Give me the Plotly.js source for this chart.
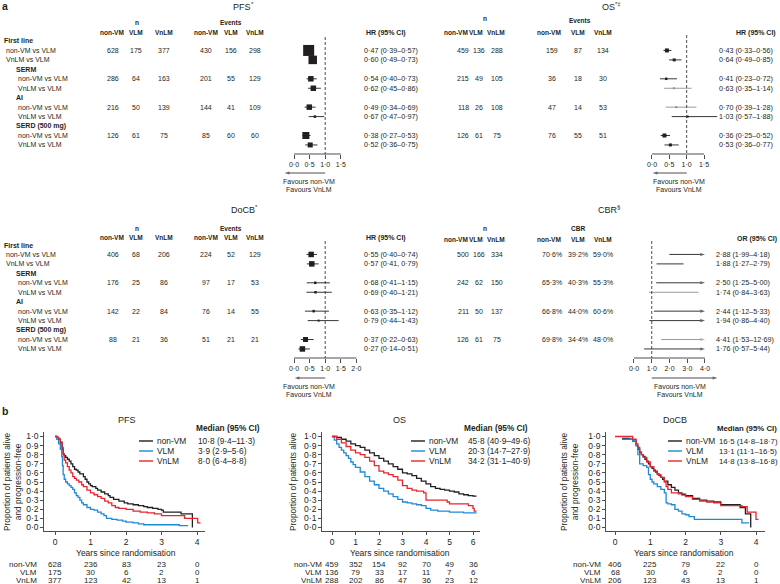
<!DOCTYPE html>
<html><head><meta charset="utf-8">
<script src="https://cdn.plot.ly/plotly-3.0.1.min.js"></script>
<style>body{margin:0;padding:0;background:#fff}#chart{width:780px;height:584px}</style>
</head><body><div id="chart"></div>
<script>
// ================= DATA =================
const rowLabels = ['First line','non-VM vs VLM','VnLM vs VLM','SERM','non-VM vs VLM','VnLM vs VLM','AI','non-VM vs VLM','VnLM vs VLM','SERD (500 mg)','non-VM vs VLM','VnLM vs VLM'];
const rowIsHeader = [1,0,0,1,0,0,1,0,0,1,0,0];
const dataRows = [1,2,4,5,7,8,10,11];
const groupRows = [1,4,7,10];
const colHeads = ['non-VM','VLM','VnLM'];

// PFS forest
const pfsN_nonVM=[628,286,216,126], pfsN_VLM=[175,64,50,61], pfsN_VnLM=[377,163,139,75];
const pfsE_nonVM=[430,201,144,85], pfsE_VLM=[156,55,41,60], pfsE_VnLM=[298,129,109,60];
const pfsHR=[0.47,0.60,0.54,0.62,0.49,0.67,0.38,0.52];
const pfsLo=[0.39,0.49,0.40,0.45,0.34,0.47,0.27,0.36];
const pfsHi=[0.57,0.73,0.73,0.86,0.69,0.97,0.53,0.75];
const pfsWeight=[11,8.5,5.5,5.5,5.5,2.5,7,5];

// OS forest
const osN_nonVM=[459,215,118,126], osN_VLM=[136,49,26,61], osN_VnLM=[288,105,108,75];
const osE_nonVM=[159,36,47,76], osE_VLM=[87,18,14,55], osE_VnLM=[134,30,53,51];
const osHR=[0.43,0.64,0.41,0.63,0.70,1.03,0.36,0.53];
const osLo=[0.33,0.49,0.23,0.35,0.39,0.57,0.25,0.36];
const osHi=[0.56,0.85,0.72,1.14,1.28,1.88,0.52,0.77];
const osWeight=[4,3,2.5,2,2,2,4,3];
const osGrayRow=[0,0,0,1,1,0,0,0];

// DoCB forest
const docbN_nonVM=[406,176,142,88], docbN_VLM=[68,25,22,21], docbN_VnLM=[206,86,84,36];
const docbE_nonVM=[224,97,76,51], docbE_VLM=[52,17,14,21], docbE_VnLM=[129,53,55,21];
const docbHR=[0.55,0.57,0.68,0.69,0.63,0.79,0.37,0.27];
const docbLo=[0.40,0.41,0.41,0.40,0.35,0.44,0.22,0.14];
const docbHi=[0.74,0.79,1.15,1.21,1.12,1.43,0.63,0.51];
const docbSep=['–',', ','–','–','–','–','–','–'];
const docbWeight=[5.5,5.5,2.5,2.5,2.5,2,5,5.5];

// CBR forest
const cbrN_nonVM=[500,242,211,126], cbrN_VLM=[166,62,50,61], cbrN_VnLM=[334,150,137,75];
const cbrPct_nonVM=[70.6,65.3,66.8,69.8], cbrPct_VLM=[39.2,40.3,44.0,34.4], cbrPct_VnLM=[59.0,55.3,60.6,48.0];
const cbrOR=[2.88,1.88,2.50,1.74,2.44,1.94,4.41,1.76];
const cbrLo=[1.99,1.27,1.25,0.84,1.12,0.86,1.53,0.57];
const cbrHi=[4.18,2.79,5.00,3.63,5.33,4.40,12.69,5.44];
const cbrGrayRow=[0,0,0,1,0,0,1,0];
const cbrAxisMax=4;

// KM: PFS
const pfsNonVM_t=[0,0.05,0.1,0.15,0.2,0.23,0.26,0.3,0.35,0.4,0.45,0.5,0.55,0.6,0.65,0.7,0.8,0.85,0.9,0.95,1.0,1.05,1.15,1.2,1.3,1.4,1.5,1.55,1.65,1.8,1.95,2.05,2.2,2.35,2.5,2.6,2.75,2.9,3.0,3.05,3.55,3.87];
const pfsNonVM_s=[1.0,0.99,0.97,0.93,0.86,0.81,0.79,0.77,0.75,0.73,0.70,0.67,0.64,0.63,0.61,0.59,0.56,0.53,0.50,0.48,0.46,0.45,0.43,0.41,0.39,0.37,0.35,0.33,0.31,0.29,0.27,0.26,0.25,0.24,0.23,0.22,0.21,0.20,0.19,0.17,0.15,0.0];
const pfsVLM_t=[0,0.05,0.1,0.15,0.19,0.21,0.23,0.26,0.3,0.35,0.4,0.45,0.5,0.55,0.6,0.65,0.7,0.75,0.8,0.9,1.0,1.1,1.2,1.3,1.38,1.45,1.6,1.75,1.9,2.0,2.2,2.35,2.5,3.5,3.75];
const pfsVLM_s=[1.0,0.97,0.92,0.86,0.78,0.68,0.58,0.53,0.50,0.48,0.46,0.44,0.42,0.38,0.35,0.33,0.30,0.27,0.25,0.22,0.20,0.19,0.17,0.15,0.13,0.10,0.09,0.08,0.07,0.06,0.05,0.04,0.03,0.02,0.02];
const pfsVnLM_t=[0,0.05,0.1,0.15,0.2,0.23,0.26,0.3,0.35,0.4,0.45,0.5,0.55,0.6,0.67,0.75,0.8,0.9,1.0,1.1,1.2,1.3,1.4,1.5,1.6,1.7,1.8,2.0,2.2,2.4,2.6,2.8,3.0,3.6,3.65,3.95,4.02,4.1];
const pfsVnLM_s=[1.0,0.99,0.97,0.94,0.88,0.80,0.74,0.71,0.67,0.63,0.60,0.56,0.54,0.52,0.50,0.47,0.45,0.41,0.38,0.36,0.34,0.32,0.29,0.27,0.24,0.22,0.21,0.20,0.18,0.17,0.16,0.15,0.13,0.13,0.10,0.10,0.05,0.05];
// KM: OS
const osNonVM_t=[0,0.2,0.4,0.6,0.8,1.0,1.2,1.4,1.6,1.8,2.0,2.2,2.4,2.6,2.8,3.0,3.2,3.4,3.6,3.8,4.0,4.2,4.4,4.6,4.8,5.0,5.2,5.4,5.6,5.8,6.0,6.15];
const osNonVM_s=[1.0,0.99,0.97,0.95,0.92,0.90,0.88,0.85,0.82,0.79,0.76,0.73,0.70,0.67,0.64,0.60,0.59,0.57,0.54,0.51,0.48,0.45,0.43,0.42,0.41,0.40,0.39,0.37,0.36,0.35,0.345,0.345];
const osVLM_t=[0,0.1,0.2,0.3,0.4,0.5,0.6,0.7,0.8,0.9,1.0,1.2,1.4,1.6,1.8,2.0,2.2,2.4,2.6,2.8,3.0,3.2,3.4,3.6,3.8,4.0,4.2,4.5,5.0,5.5,5.6,6.15];
const osVLM_s=[1.0,0.96,0.92,0.88,0.85,0.82,0.79,0.76,0.72,0.69,0.66,0.61,0.56,0.51,0.47,0.43,0.40,0.37,0.34,0.31,0.28,0.27,0.26,0.25,0.24,0.21,0.19,0.18,0.17,0.17,0.16,0.16];
const osVnLM_t=[0,0.2,0.4,0.6,0.8,1.0,1.2,1.4,1.6,1.8,2.0,2.2,2.4,2.6,2.8,3.0,3.2,3.4,3.6,3.9,4.0,4.5,4.9,5.0,5.5,5.8,6.0,6.05,6.15];
const osVnLM_s=[1.0,0.97,0.93,0.89,0.85,0.82,0.80,0.77,0.73,0.68,0.62,0.60,0.58,0.56,0.52,0.46,0.43,0.41,0.40,0.38,0.30,0.30,0.28,0.26,0.26,0.24,0.21,0.18,0.18];
// KM: DoCB
const docbNonVM_t=[0.2,0.4,0.5,0.6,0.65,0.7,0.75,0.8,0.85,0.9,0.95,1.0,1.05,1.1,1.15,1.2,1.25,1.3,1.35,1.4,1.5,1.6,1.7,1.8,1.9,2.0,2.2,2.4,2.6,2.8,3.0,3.5,3.55,3.7,3.85];
const docbNonVM_s=[0.98,0.97,0.95,0.90,0.86,0.82,0.80,0.78,0.75,0.73,0.70,0.67,0.65,0.63,0.61,0.59,0.57,0.55,0.53,0.51,0.47,0.44,0.41,0.38,0.36,0.35,0.32,0.30,0.29,0.28,0.25,0.25,0.22,0.15,0.0];
const docbVLM_t=[0.2,0.5,0.6,0.65,0.7,0.8,0.9,0.95,1.0,1.05,1.1,1.2,1.3,1.4,1.45,1.5,1.6,1.7,1.8,1.9,2.0,2.1,2.25,3.6,3.8];
const docbVLM_s=[0.97,0.95,0.90,0.80,0.70,0.68,0.66,0.58,0.53,0.50,0.48,0.45,0.42,0.38,0.27,0.26,0.25,0.20,0.18,0.15,0.14,0.12,0.09,0.05,0.05];
const docbVnLM_t=[0,0.5,0.6,0.65,0.7,0.75,0.8,0.9,1.0,1.1,1.2,1.3,1.4,1.45,1.5,1.6,1.8,2.0,2.2,2.4,2.6,2.8,3.0,3.6,3.75,4.0,4.07];
const docbVnLM_s=[1.0,0.97,0.92,0.88,0.83,0.80,0.77,0.72,0.67,0.62,0.58,0.55,0.50,0.45,0.42,0.38,0.37,0.34,0.31,0.29,0.28,0.27,0.24,0.23,0.17,0.09,0.09];

// KM medians and numbers at risk
const groups=['non-VM','VLM','VnLM'];
const pfsMedian=['10·8 (9·4–11·3)','3·9 (2·9–5·6)','8·0 (6·4–8·8)'];
const osMedian=['45·8 (40·9–49·6)','20·3 (14·7–27·9)','34·2 (31·1–40·9)'];
const docbMedian=['16·5 (14·8–18·7)','13·1 (11·1–16·5)','14·8 (13·8–16·8)'];
const pfsRiskT=[0,1,2,3,4];
const pfsRisk_nonVM=[628,236,83,23,0], pfsRisk_VLM=[175,30,6,2,0], pfsRisk_VnLM=[377,123,42,13,1];
const osRiskT=[0,1,2,3,4,5,6];
const osRisk_nonVM=[459,352,154,92,70,49,36], osRisk_VLM=[136,79,33,17,11,7,6], osRisk_VnLM=[288,202,86,47,36,23,12];
const docbRiskT=[0,1,2,3,4];
const docbRisk_nonVM=[406,225,79,22,0], docbRisk_VLM=[68,30,6,2,0], docbRisk_VnLM=[206,123,43,13,1];

// ================= DRAWING =================
const W=780,H=584;
const px=v=>v/W, py=v=>1-v/H;
const INK='#231f20', GRAY='#8e8e8e', BLUE='#1e8ad6', RED='#e8252c';
const FONT='"Liberation Sans", Arial, Helvetica, sans-serif';
const fmt2=v=>v.toFixed(2).replace('.','·');
const fmt1=v=>v.toFixed(1).replace('.','·');
const annotations=[], shapes=[], traces=[];

function T(x,y,text,o){
  const a={x:x,y:y,text:text,xref:'paper',yref:'paper',showarrow:false,xanchor:'center',yanchor:'middle',borderpad:0,
    font:{family:FONT,size:7,color:INK}};
  Object.assign(a,o||{});
  annotations.push(a);
}
const fs=(s)=>({family:FONT,size:s,color:INK});

// ---- forest axes (row index scale, 9.45 px per row)
const ROW_SP=9.45;
const rowAt=(pix,r0)=>(pix-r0)/ROW_SP;
function fxAxis(z0,s,r,axisPx,tv){
  return {domain:[px(z0+r[0]*s),px(z0+r[1]*s)],range:r,anchor:'free',position:py(axisPx),tickvals:tv,ticktext:tv.map(fmt1),
    ticks:'outside',ticklen:4,tickwidth:0.8,tickcolor:INK,showline:false,showgrid:false,zeroline:false,
    tickfont:fs(7),fixedrange:true};
}
function fyAxis(top,bot,r0,anchor){
  return {domain:[py(bot),py(top)],range:[rowAt(bot,r0),rowAt(top,r0)],anchor:anchor,
    showticklabels:false,ticks:'',showline:false,showgrid:false,zeroline:false,fixedrange:true};
}
const PFS_R0=41, DOCB_R0=245;
const layout={width:W,height:H,margin:{l:0,r:0,t:0,b:0,pad:0},paper_bgcolor:'#fff',plot_bgcolor:'rgba(0,0,0,0)',
  showlegend:false,font:fs(7),
  xaxis:fxAxis(294,31.2,[-0.35,1.9],154,[0,0.5,1,1.5]),
  yaxis:fyAxis(33,178,PFS_R0,'x'),
  xaxis2:fxAxis(652,34.67,[-0.35,2.0],154,[0,0.5,1,1.5]),
  yaxis2:fyAxis(33,178,PFS_R0,'x2'),
  xaxis3:fxAxis(294,31.2,[-0.35,2.2],358,[0,0.5,1,1.5,2]),
  yaxis3:fyAxis(237,383,DOCB_R0,'x3'),
  xaxis4:fxAxis(634,17.75,[-0.5,4.9],358,[0,1,2,3,4]),
  yaxis4:fyAxis(237,383,DOCB_R0,'x4')
};

// arrow drawn as a line with an arrow marker at its head
function arrowTrace(xa,ya,x0,x1,row,color,w){
  traces.push({type:'scatter',mode:'lines+markers',x:[x0,x1],y:[row,row],xaxis:xa,yaxis:ya,hoverinfo:'skip',cliponaxis:false,
    line:{color:color,width:w},marker:{symbol:'arrow',angleref:'previous',size:[0,5],color:color,line:{width:0}}});
}

// forest axis lines, reference lines, "favours" arrows and labels
function forestFrame(xa,ya,r0,tv,botPx,topDash,arrowFrom,arrowTo,arrowY,favX,favY){
  shapes.push({type:'line',xref:xa,yref:'paper',x0:tv[0],x1:tv[tv.length-1],y0:py(botPx),y1:py(botPx),line:{color:INK,width:0.8}});
  shapes.push({type:'line',xref:xa,yref:'paper',x0:1,x1:1,y0:py(topDash),y1:py(botPx),line:{color:INK,width:0.8,dash:'3px,2px'}});
  arrowTrace(xa,ya,arrowFrom,arrowTo,rowAt(arrowY,r0),INK,0.8);
  T(px(favX),py(favY),'Favours non-VM',{font:fs(7)});
  T(px(favX),py(favY+8),'Favours VnLM',{font:fs(7)});
}
forestFrame('x','y',PFS_R0,[0,1.5],154,37,1.0,-0.3,173,309,181);
forestFrame('x2','y2',PFS_R0,[0,1.5],154,35,1.0,0.02,173,679,181);
forestFrame('x3','y3',DOCB_R0,[0,2],358,241,1.0,0.02,378,309,386);
forestFrame('x4','y4',DOCB_R0,[0,4],358,241,1.0,4.7,378,680,386);

// forest markers + CIs
function addForest(xa,ya,hr,lo,hi,w,gray){
  for(let i=0;i<hr.length;i++){
    const c=gray&&gray[i]?GRAY:INK;
    traces.push({type:'scatter',mode:'markers',x:[hr[i]],y:[dataRows[i]],xaxis:xa,yaxis:ya,hoverinfo:'skip',cliponaxis:false,
      marker:{symbol:'square',size:w[i],color:c,line:{width:0}},
      error_x:{type:'data',symmetric:false,array:[hi[i]-hr[i]],arrayminus:[hr[i]-lo[i]],color:c,thickness:0.9,width:0}});
  }
}
addForest('x','y',pfsHR,pfsLo,pfsHi,pfsWeight,null);
addForest('x2','y2',osHR,osLo,osHi,osWeight,osGrayRow);
addForest('x3','y3',docbHR,docbLo,docbHi,docbWeight,null);
// CBR: CI lines, arrow where the CI runs past the axis end
for(let i=0;i<cbrOR.length;i++){
  const c=cbrGrayRow[i]?GRAY:INK, row=dataRows[i];
  if(cbrHi[i]>cbrAxisMax){
    arrowTrace('x4','y4',cbrLo[i],cbrAxisMax,row,c,0.9);
  } else {
    traces.push({type:'scatter',mode:'lines',x:[cbrLo[i],cbrHi[i]],y:[row,row],xaxis:'x4',yaxis:'y4',hoverinfo:'skip',
      line:{color:c,width:0.9}});
  }
}

// forest tables
function rowLabelsAt(ya){
  rowLabels.forEach((lab,r)=>{
    let x;
    if(r===0) x=3; else if(rowIsHeader[r]) x=15; else if(r<3) x=5; else x=17;
    T(px(x),r,rowIsHeader[r]?'<b>'+lab+'</b>':lab,{yref:ya,xanchor:'left'});
  });
}
rowLabelsAt('y'); rowLabelsAt('y3');

function table(ya,cols,arrs,f){
  for(let g=0;g<4;g++){
    arrs.forEach((a,j)=>T(px(cols[j]),groupRows[g],f?f(a[g]):String(a[g]),{yref:ya}));
  }
}
const leftN=[113,136,164], leftE=[206,231,255];
const rightN=[463,479,497], rightE=[552,578,603];
table('y',leftN,[pfsN_nonVM,pfsN_VLM,pfsN_VnLM]);
table('y',leftE,[pfsE_nonVM,pfsE_VLM,pfsE_VnLM]);
table('y2',rightN,[osN_nonVM,osN_VLM,osN_VnLM]);
table('y2',rightE,[osE_nonVM,osE_VLM,osE_VnLM]);
table('y3',leftN,[docbN_nonVM,docbN_VLM,docbN_VnLM]);
table('y3',leftE,[docbE_nonVM,docbE_VLM,docbE_VnLM]);
table('y4',rightN,[cbrN_nonVM,cbrN_VLM,cbrN_VnLM]);
table('y4',rightE,[cbrPct_nonVM,cbrPct_VLM,cbrPct_VnLM],v=>fmt1(v)+'%');

function estTexts(ya,x,est,lo,hi,sep){
  est.forEach((v,i)=>T(px(x),dataRows[i],fmt2(v)+' ('+fmt2(lo[i])+(sep?sep[i]:'–')+fmt2(hi[i])+')',
    {yref:ya,xanchor:'left',font:fs(7.2)}));
}
estTexts('y',363,pfsHR,pfsLo,pfsHi);
estTexts('y2',718,osHR,osLo,osHi);
estTexts('y3',363,docbHR,docbLo,docbHi,docbSep);
estTexts('y4',715,cbrOR,cbrLo,cbrHi);

// headers
const HF=fs(6.5);
function heads(cols,y){ colHeads.forEach((h,j)=>T(px(cols[j]),py(y),'<b>'+h+'</b>',{font:HF})); }
// panel title with a small raised mark after it
function ptitle(cx,cy,main,sup,halfW){
  T(px(cx),py(cy),main,{font:fs(9)});
  T(px(cx+halfW),py(cy-3),sup,{xanchor:'left',font:fs(6)});
}
ptitle(242,7,'PFS','*',7.6);
T(px(137),py(23),'<b>n</b>',{font:HF}); T(px(231),py(23),'<b>Events</b>',{font:HF});
heads([112,136,164],33); heads([206,231,255],33);
T(px(365),py(33),'<b>HR (95% CI)</b>',{xanchor:'left'});

ptitle(608,7,'OS','*‡',6.2);
T(px(485),py(18),'<b>n</b>',{font:HF}); T(px(580),py(21),'<b>Events</b>',{font:HF});
heads([456,476,496],33); heads([549,578,603],33);
T(px(756),py(33),'<b>HR (95% CI)</b>');

ptitle(243,210,'DoCB','*',10.8);
T(px(137),py(228),'<b>n</b>',{font:HF}); T(px(231),py(228),'<b>Events</b>',{font:HF});
heads([112,136,164],238); heads([206,231,255],238);
T(px(365),py(238),'<b>HR (95% CI)</b>',{xanchor:'left'});

ptitle(608,210,'CBR','§',8.3);
T(px(485),py(229),'<b>n</b>',{font:HF}); T(px(578),py(229),'<b>CBR</b>',{font:HF});
heads([456,476,496],239); heads([549,578,603],239);
T(px(757),py(239),'<b>OR (95% CI)</b>');

T(px(1),py(6),'<b>a</b>',{xanchor:'left',font:fs(10.5)});
T(px(1),py(411),'<b>b</b>',{xanchor:'left',font:fs(10.5)});

// ================= KM =================
const KM_TOP=432, KM_BOT=531, KM_Y0=527.5, KM_YS=91;
const yTicks=[0,0.1,0.2,0.3,0.4,0.5,0.6,0.7,0.8,0.9,1.0];
function kmx(z0,s,r,anchor,tv){
  return {domain:[px(z0+r[0]*s),px(z0+r[1]*s)],range:r,anchor:anchor,tickvals:tv,ticktext:tv.map(String),
    ticks:'outside',ticklen:3,tickwidth:0.8,tickcolor:INK,showline:true,linewidth:0.8,linecolor:INK,
    showgrid:false,zeroline:false,tickfont:fs(8.5),fixedrange:true};
}
function kmy(anchor){
  return {domain:[py(KM_BOT),py(KM_TOP)],range:[(KM_Y0-KM_BOT)/KM_YS,(KM_Y0-KM_TOP)/KM_YS],anchor:anchor,
    tickvals:yTicks,ticktext:yTicks.map(fmt1),ticks:'outside',ticklen:3,tickwidth:0.8,tickcolor:INK,
    showline:true,linewidth:0.8,linecolor:INK,showgrid:false,zeroline:false,tickfont:fs(8.5),fixedrange:true};
}
layout.xaxis5=kmx(55,35.5,[-0.31,4.23],'y5',[0,1,2,3,4]); layout.yaxis5=kmy('x5');
layout.xaxis6=kmx(332,23.5,[-0.43,6.3],'y6',[0,1,2,3,4,5,6]); layout.yaxis6=kmy('x6');
layout.xaxis7=kmx(615,35.25,[-0.255,4.255],'y7',[0,1,2,3,4]); layout.yaxis7=kmy('x7');

const kmColors=[INK,BLUE,RED];
function km(xa,ya,curves){
  curves.forEach((c,i)=>traces.push({type:'scatter',mode:'lines',x:c[0],y:c[1],xaxis:xa,yaxis:ya,hoverinfo:'skip',
    line:{shape:'hv',color:kmColors[i],width:1.3}}));
}
km('x5','y5',[[pfsNonVM_t,pfsNonVM_s],[pfsVLM_t,pfsVLM_s],[pfsVnLM_t,pfsVnLM_s]]);
km('x6','y6',[[osNonVM_t,osNonVM_s],[osVLM_t,osVLM_s],[osVnLM_t,osVnLM_s]]);
km('x7','y7',[[docbNonVM_t,docbNonVM_s],[docbVLM_t,docbVLM_s],[docbVnLM_t,docbVnLM_s]]);

const RF=fs(8);
function kmText(o){
  T(px(o.titleX),py(420),o.title,{font:fs(9)});
  T(px(o.medHeadX),py(428),'<b>Median (95% CI)</b>',{xanchor:'left',font:fs(o.medFs)});
  [441,451,461].forEach((y,i)=>{
    shapes.push({type:'line',xref:'paper',yref:'paper',x0:px(o.legX0),x1:px(o.legX0+14),y0:py(y),y1:py(y),line:{color:kmColors[i],width:1.4}});
    T(px(o.legX0+17),py(y),groups[i],{xanchor:'left',font:fs(8.4)});
    T(px(o.medX),py(y),o.med[i],{xanchor:'left',font:fs(o.medFs)});
  });
  T(px(o.yTitleX),py(482),o.yTitle,{textangle:-90,font:fs(8.3)});
  T(px(o.xTitleX),py(553),'Years since randomisation',{font:fs(8.5)});
  [564,572,580].forEach((y,i)=>{
    T(px(o.riskLabX),py(y),groups[i],{xanchor:'right',font:RF,height:8});
    o.risk[i].forEach((v,k)=>T(o.riskT[k],py(y),String(v),{xref:o.xa,font:RF,height:8}));
  });
}
kmText({xa:'x5',title:'PFS',titleX:127,medHeadX:195,legX0:139,medX:197,med:pfsMedian,medFs:8.3,
  yTitle:'Proportion of patients alive<br>and progression-free',yTitleX:12,xTitleX:126,riskLabX:38,
  riskT:pfsRiskT,risk:[pfsRisk_nonVM,pfsRisk_VLM,pfsRisk_VnLM]});
kmText({xa:'x6',title:'OS',titleX:400,medHeadX:463,legX0:411,medX:467,med:osMedian,medFs:8.3,
  yTitle:'Proportion of patients alive',yTitleX:293,xTitleX:400,riskLabX:323,
  riskT:osRiskT,risk:[osRisk_nonVM,osRisk_VLM,osRisk_VnLM]});
kmText({xa:'x7',title:'DoCB',titleX:675,medHeadX:716,legX0:668,medX:718,med:docbMedian,medFs:7.8,
  yTitle:'Proportion of patients alive<br>and progression-free',yTitleX:569,xTitleX:684,riskLabX:602,
  riskT:docbRiskT,risk:[docbRisk_nonVM,docbRisk_VLM,docbRisk_VnLM]});

layout.annotations=annotations; layout.shapes=shapes;
Plotly.newPlot('chart',traces,layout,{staticPlot:true,displayModeBar:false});
</script></body></html>
